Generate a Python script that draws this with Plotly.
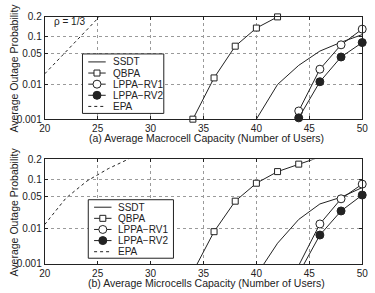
import plotly.graph_objects as go
from statistics import NormalDist

# ---------------- data ----------------
# (a) Average Macrocell Capacity
a_ssdt_x = [40, 42, 44, 46, 48, 50]
a_ssdt_p = [0.001, 0.0099, 0.028, 0.055, 0.080, 0.108]
a_qbpa_x = [34, 36, 38, 40, 42]
a_qbpa_p = [0.001, 0.0144, 0.068, 0.137, 0.198]
a_rv1_x = [44, 46, 48, 50]
a_rv1_p = [0.0018, 0.023, 0.072, 0.132]
a_rv2_x = [44, 46, 48, 50]
a_rv2_p = [0.0011, 0.0116, 0.042, 0.079]
a_epa_x = [20, 22, 24, 26]
a_epa_p = [0.018, 0.054, 0.13, 0.26]

# (b) Average Microcells Capacity
b_ssdt_x = [40, 42, 44, 46, 48, 50]
b_ssdt_p = [0.00043, 0.0041, 0.0165, 0.036, 0.049, 0.074]
b_qbpa_x = [34, 36, 38, 40, 42, 44, 46]
b_qbpa_p = [0.00055, 0.0083, 0.041, 0.088, 0.135, 0.173, 0.215]
b_rv1_x = [44, 46, 48, 50]
b_rv1_p = [0.0009, 0.0129, 0.0457, 0.085]
b_rv2_x = [44, 46, 48, 50]
b_rv2_p = [0.00049, 0.0068, 0.0256, 0.054]
b_epa_x = [20, 22, 24, 26, 28]
b_epa_p = [0.0125, 0.047, 0.096, 0.149, 0.205]

series_names = ["SSDT", "QBPA", "LPPA\u2212RV1", "LPPA\u2212RV2", "EPA"]
x_ticks = [20, 25, 30, 35, 40, 45, 50]
y_ticks = [0.001, 0.01, 0.05, 0.1, 0.2]
y_tick_text = ["0.001", "0.01", "0.05", "0.1", "0.2"]
x_titles = ["(a) Average Macrocell Capacity (Number of Users)",
            "(b) Average Microcells Capacity (Number of Users)"]
y_title = "Average Outage Probability"
rho_text = "\u03c1 = 1/3"

# ---------------- helpers ----------------
W, H = 375, 293
nd = NormalDist()


def z(p):
    return nd.inv_cdf(p)


def fx(px):
    return px / W


def fy(py):
    return 1 - py / H


PMIN, PMAX = 0.001, 0.2
FONT = "Liberation Sans, Arial, sans-serif"
INK = "#222222"

styles = {
    "SSDT": dict(dash="solid", symbol=None, fill=None),
    "QBPA": dict(dash="solid", symbol="square", fill="white"),
    "LPPA\u2212RV1": dict(dash="solid", symbol="circle", fill="white"),
    "LPPA\u2212RV2": dict(dash="solid", symbol="circle", fill=INK),
    "EPA": dict(dash="3px,3px", symbol=None, fill=None),
}
msize = {"square": 6, "circle": 8}

panels = [
    dict(xa="x", ya="y", top=11, bot=118,
         data=[(a_ssdt_x, a_ssdt_p), (a_qbpa_x, a_qbpa_p), (a_rv1_x, a_rv1_p),
               (a_rv2_x, a_rv2_p), (a_epa_x, a_epa_p)],
         legbox=(79, 50, 163, 112)),
    dict(xa="x2", ya="y2", top=160, bot=269,
         data=[(b_ssdt_x, b_ssdt_p), (b_qbpa_x, b_qbpa_p), (b_rv1_x, b_rv1_p),
               (b_rv2_x, b_rv2_p), (b_epa_x, b_epa_p)],
         legbox=(85, 202, 173, 263)),
]
PLOT_L, PLOT_R = 40, 368

fig = go.Figure()
shapes = []
annotations = []

for pi, pan in enumerate(panels):
    for name, (xs, ps) in zip(series_names, pan["data"]):
        st = styles[name]
        fig.add_trace(go.Scatter(
            x=xs, y=[z(p) for p in ps], mode="lines",
            line=dict(color=INK, width=1, dash=st["dash"]),
            xaxis=pan["xa"], yaxis=pan["ya"], showlegend=False,
            hoverinfo="skip"))
        if st["symbol"]:
            inx = [x for x, p in zip(xs, ps) if PMIN * 0.999 <= p <= PMAX * 1.001]
            inp = [p for p in ps if PMIN * 0.999 <= p <= PMAX * 1.001]
            fig.add_trace(go.Scatter(
                x=inx, y=[z(p) for p in inp], mode="markers",
                marker=dict(symbol=st["symbol"], size=msize[st["symbol"]],
                            color=st["fill"], line=dict(color=INK, width=1)),
                cliponaxis=False,
                xaxis=pan["xa"], yaxis=pan["ya"], showlegend=False,
                hoverinfo="skip"))

    # custom legend
    x0, y0, x1, y1 = pan["legbox"]
    shapes.append(dict(type="rect", xref="paper", yref="paper",
                       x0=fx(x0), x1=fx(x1), y0=fy(y0), y1=fy(y1),
                       line=dict(color=INK, width=1), fillcolor="white",
                       layer="above"))
    cy = (y0 + y1) / 2
    for i, name in enumerate(series_names):
        st = styles[name]
        ry = cy + (i - 2) * 11.6 + 0.5
        shapes.append(dict(type="line", xref="paper", yref="paper",
                           x0=fx(x0 + 6), x1=fx(x0 + 24), y0=fy(ry), y1=fy(ry),
                           line=dict(color=INK, width=1, dash=st["dash"]),
                           layer="above"))
        if st["symbol"]:
            h = msize[st["symbol"]] / 2
            shapes.append(dict(type="rect" if st["symbol"] == "square" else "circle",
                               xref="paper", yref="paper",
                               xsizemode="pixel", ysizemode="pixel",
                               xanchor=fx(x0 + 15), yanchor=fy(ry),
                               x0=-h, x1=h, y0=-h, y1=h,
                               line=dict(color=INK, width=1),
                               fillcolor=st["fill"], layer="above"))
        annotations.append(dict(text=name, xref="paper", yref="paper",
                                x=fx(x0 + 29), y=fy(ry), xanchor="left",
                                yanchor="middle", showarrow=False,
                                font=dict(size=10, color=INK, family=FONT)))

    # axis titles
    annotations.append(dict(text=x_titles[pi], xref="paper", yref="paper",
                            x=fx(207), y=fy(pan["bot"] + 19.5), xanchor="center",
                            yanchor="middle", showarrow=False,
                            font=dict(size=10.5, color=INK, family=FONT)))
    annotations.append(dict(text=y_title, xref="paper", yref="paper",
                            x=fx(8), y=fy((pan["top"] + pan["bot"]) / 2),
                            xanchor="center", yanchor="middle", textangle=-90,
                            showarrow=False,
                            font=dict(size=10.5, color=INK, family=FONT)))

annotations.append(dict(text=rho_text, xref="paper", yref="paper",
                        x=fx(48), y=fy(16), xanchor="left", yanchor="middle",
                        showarrow=False, font=dict(size=10, color=INK, family=FONT)))

common_x = dict(range=[20, 50], tickvals=x_ticks, ticks="inside", ticklen=3,
                tickcolor=INK, showline=True, linecolor=INK, linewidth=1,
                mirror="ticks", showgrid=True, gridcolor="#9a9a9a",
                griddash="dot", gridwidth=1, zeroline=False,
                tickfont=dict(size=10, color=INK, family=FONT),
                domain=[fx(PLOT_L), fx(PLOT_R)])
common_y = dict(range=[z(PMIN), z(PMAX)], tickvals=[z(t) for t in y_ticks],
                ticktext=y_tick_text, ticks="inside", ticklen=3, tickcolor=INK,
                showline=True, linecolor=INK, linewidth=1, mirror="ticks",
                showgrid=True, gridcolor="#9a9a9a", griddash="dot",
                gridwidth=1, zeroline=False,
                tickfont=dict(size=10, color=INK, family=FONT))

fig.update_layout(
    width=W, height=H,
    margin=dict(l=0, r=0, t=0, b=0),
    paper_bgcolor="white", plot_bgcolor="white",
    showlegend=False,
    xaxis=dict(common_x, anchor="y"),
    yaxis=dict(common_y, anchor="x",
               domain=[fy(panels[0]["bot"]), fy(panels[0]["top"])]),
    xaxis2=dict(common_x, anchor="y2"),
    yaxis2=dict(common_y, anchor="x2",
                domain=[fy(panels[1]["bot"]), fy(panels[1]["top"])]),
    shapes=shapes,
    annotations=annotations,
)

fig.write_html("out.html")
